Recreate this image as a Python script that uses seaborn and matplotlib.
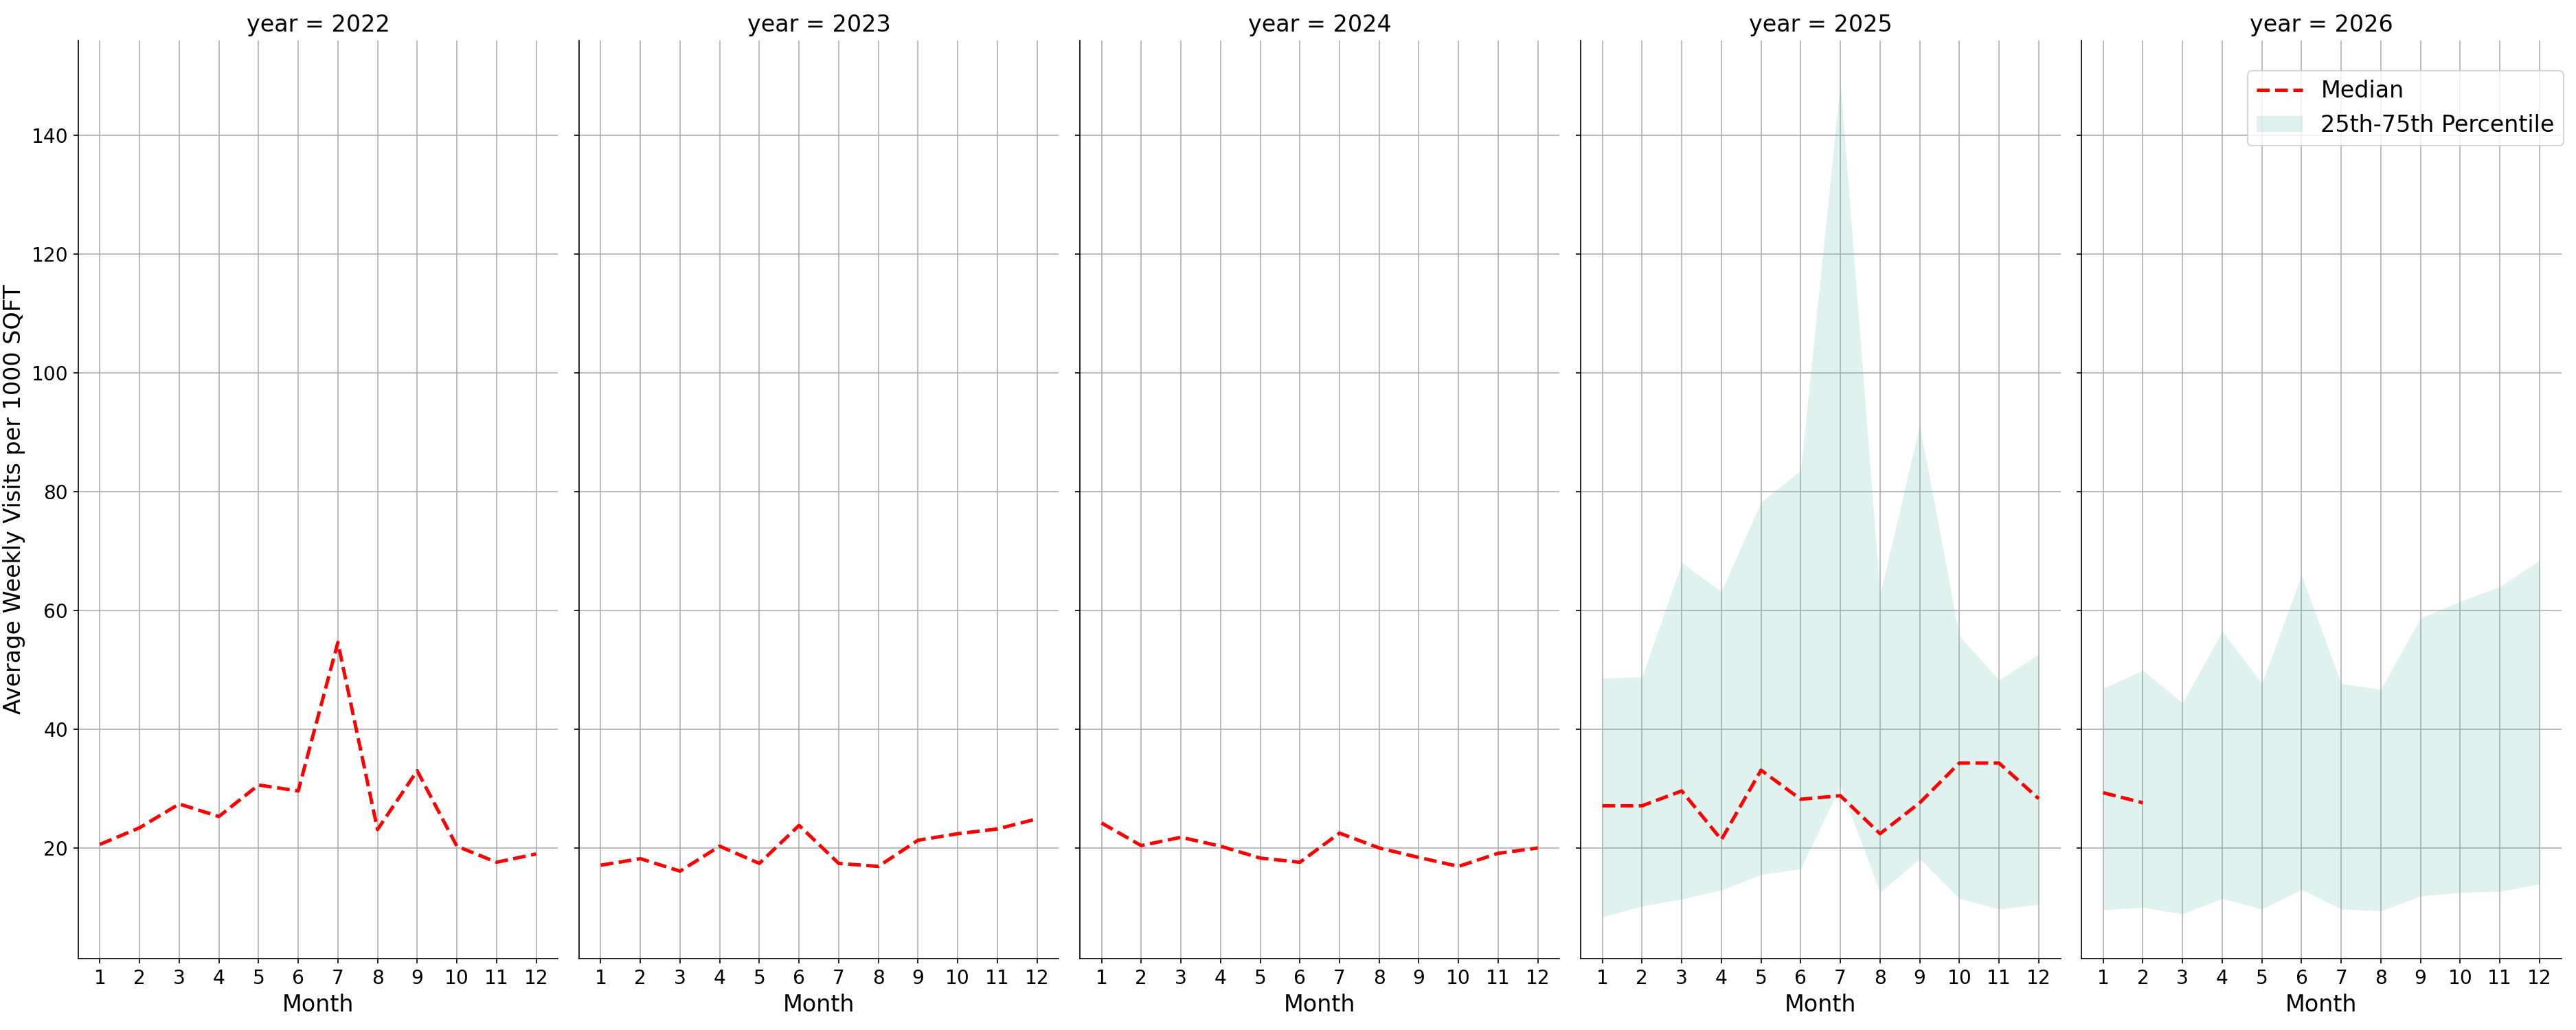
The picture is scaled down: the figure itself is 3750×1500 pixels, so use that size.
import numpy as np
import pandas as pd
import matplotlib
matplotlib.use("Agg")
import matplotlib.pyplot as plt
import seaborn as sns
from matplotlib.lines import Line2D
from matplotlib.patches import Patch

plt.rcParams['axes.axisbelow'] = True

nan = np.nan
years = [2022, 2023, 2024, 2025, 2026]
months = list(range(1, 13))

# median weekly visits per 1000 sqft, by month
median_2022 = [20.6, 23.4, 27.4, 25.3, 30.6, 29.6, 54.6, 23.1, 33.0, 20.3, 17.6, 19.0]
median_2023 = [17.1, 18.2, 16.1, 20.3, 17.4, 23.8, 17.4, 16.9, 21.3, 22.4, 23.2, 24.9]
median_2024 = [24.2, 20.4, 21.8, 20.3, 18.3, 17.6, 22.5, 20.0, 18.4, 16.9, 19.1, 20.0]
median_2025 = [27.1, 27.1, 29.6, 21.4, 33.1, 28.2, 28.8, 22.4, 27.6, 34.3, 34.3, 28.3]
median_2026 = [29.3, 27.6, nan, nan, nan, nan, nan, nan, nan, nan, nan, nan]

# 25th / 75th percentiles (only available for 2025 and 2026)
p25_2025 = [8.4, 10.2, 11.4, 12.9, 15.5, 16.5, 30.4, 12.5, 18.2, 11.5, 9.7, 10.5]
p75_2025 = [48.6, 48.8, 68.0, 63.2, 78.2, 83.6, 148.9, 62.7, 91.2, 55.7, 48.3, 52.6]
p25_2026 = [9.6, 10.0, 8.9, 11.5, 9.7, 13.0, 9.7, 9.4, 11.9, 12.5, 12.7, 13.9]
p75_2026 = [46.9, 49.9, 44.4, 56.5, 47.7, 65.9, 47.7, 46.7, 58.7, 61.5, 64.0, 68.4]
no_data = [nan] * 12

medians = [median_2022, median_2023, median_2024, median_2025, median_2026]
p25s = [no_data, no_data, no_data, p25_2025, p25_2026]
p75s = [no_data, no_data, no_data, p75_2025, p75_2026]

frames = []
for y, med, lo, hi in zip(years, medians, p25s, p75s):
    frames.append(pd.DataFrame({'year': y, 'month': months, 'median': med,
                                'p25': lo, 'p75': hi}))
df = pd.concat(frames, ignore_index=True)

band_color = '#66c2a5'
line_w = 2.4


def draw_band(data, **kws):
    ax = plt.gca()
    ax.fill_between(data['month'], data['p25'], data['p75'],
                    color=band_color, alpha=0.2, linewidth=0)


g = sns.FacetGrid(df, col='year', height=10, aspect=0.5, sharey=True)
g.map_dataframe(draw_band)
g.map_dataframe(sns.lineplot, x='month', y='median', color='red',
                linestyle='--', linewidth=line_w)
g.set_titles('year = {col_name}', size=16)

for ax in g.axes.flat:
    ax.set_xticks(months)
    ax.grid(True)
    ax.tick_params(labelsize=13.5)
    ax.set_xlabel('Month', fontsize=16)
    ax.set_ylabel('')
g.axes.flat[0].set_ylabel('Average Weekly Visits per 1000 SQFT', fontsize=16)

g.figure.subplots_adjust(left=0.0303, right=0.9943, bottom=0.0693,
                         top=0.9607, wspace=0.0436)

handles = [Line2D([0], [0], color='red', linestyle='--', linewidth=line_w),
           Patch(facecolor=band_color, alpha=0.2, edgecolor='none')]
g.axes.flat[-1].legend(handles, ['Median', '25th-75th Percentile'],
                       loc='upper right', fontsize=16,
                       bbox_to_anchor=(0.9952, 0.9313),
                       bbox_transform=g.figure.transFigure, borderaxespad=0)

g.figure.savefig('out.png', dpi=150)
